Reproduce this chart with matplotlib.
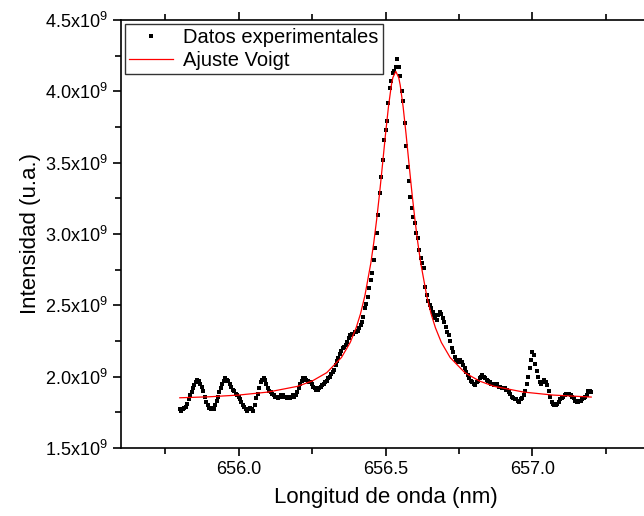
import numpy as np
import matplotlib
matplotlib.use("Agg")
from matplotlib import pyplot as plt
from matplotlib.ticker import MultipleLocator

plt.rcParams["font.family"] = ["Liberation Sans", "DejaVu Sans"]
plt.rcParams["mathtext.fontset"] = "custom"
plt.rcParams["mathtext.rm"] = "Liberation Sans"

# longitud de onda (nm), paso 0.005 nm
wl = np.round(np.arange(655.80, 657.2001, 0.005), 3)

# intensidad medida (x10^9 u.a.)
intens = [
    1.77, 1.76, 1.77, 1.78, 1.79, 1.81, 1.84, 1.87, 1.89, 1.92,
    1.94, 1.96, 1.98, 1.97, 1.95, 1.93, 1.90, 1.86, 1.82, 1.80,
    1.78, 1.77, 1.78, 1.77, 1.80, 1.83, 1.86, 1.89, 1.92, 1.95,
    1.97, 1.99, 1.98, 1.97, 1.95, 1.93, 1.91, 1.90, 1.88, 1.87,
    1.86, 1.84, 1.82, 1.80, 1.79, 1.77, 1.76, 1.77, 1.78, 1.77,
    1.76, 1.80, 1.85, 1.88, 1.92, 1.96, 1.98, 1.99, 1.98, 1.95,
    1.92, 1.90, 1.89, 1.88, 1.87, 1.86, 1.86, 1.85, 1.86, 1.87,
    1.87, 1.86, 1.86, 1.85, 1.86, 1.85, 1.86, 1.87, 1.86, 1.87,
    1.89, 1.92, 1.95, 1.97, 1.99, 1.99, 1.98, 1.97, 1.96, 1.96,
    1.95, 1.93, 1.92, 1.91, 1.91, 1.92, 1.93, 1.94, 1.95, 1.96,
    1.97, 1.99, 2.00, 2.02, 2.03, 2.05, 2.08, 2.11, 2.13, 2.16,
    2.18, 2.20, 2.21, 2.22, 2.24, 2.27, 2.29, 2.30, 2.30, 2.31,
    2.31, 2.32, 2.34, 2.36, 2.38, 2.42, 2.48, 2.51, 2.56, 2.62,
    2.68, 2.73, 2.82, 2.90, 3.01, 3.13, 3.29, 3.40, 3.52, 3.66,
    3.73, 3.79, 3.92, 4.02, 4.07, 4.13, 4.14, 4.17, 4.23, 4.17,
    4.11, 4.00, 3.93, 3.78, 3.62, 3.47, 3.37, 3.26, 3.18, 3.12,
    3.08, 3.01, 2.97, 2.89, 2.83, 2.80, 2.76, 2.63, 2.57, 2.53,
    2.50, 2.48, 2.45, 2.43, 2.41, 2.40, 2.43, 2.45, 2.44, 2.41,
    2.38, 2.35, 2.31, 2.29, 2.25, 2.20, 2.17, 2.14, 2.12, 2.10,
    2.10, 2.12, 2.10, 2.08, 2.06, 2.03, 2.01, 1.99, 1.97, 1.96,
    1.95, 1.94, 1.96, 1.97, 1.99, 2.00, 2.01, 2.00, 1.99, 1.98,
    1.97, 1.96, 1.95, 1.95, 1.94, 1.94, 1.95, 1.93, 1.93, 1.92,
    1.92, 1.92, 1.91, 1.91, 1.89, 1.88, 1.86, 1.85, 1.84, 1.84,
    1.83, 1.82, 1.84, 1.85, 1.87, 1.90, 1.95, 2.00, 2.06, 2.12,
    2.17, 2.15, 2.09, 2.04, 2.00, 1.96, 1.95, 1.96, 1.98, 1.96,
    1.94, 1.90, 1.86, 1.82, 1.81, 1.80, 1.80, 1.81, 1.82, 1.84,
    1.85, 1.86, 1.87, 1.88, 1.88, 1.88, 1.87, 1.86, 1.85, 1.83,
    1.82, 1.82, 1.83, 1.83, 1.84, 1.85, 1.86, 1.87, 1.90, 1.90,
    1.89,
]
intens = np.array(intens) * 1e9

# curva del ajuste Voigt
fit_wl = [655.80, 655.90, 656.00, 656.10, 656.20, 656.25, 656.30, 656.35,
          656.38, 656.40, 656.415, 656.43, 656.45, 656.46, 656.47, 656.48,
          656.49, 656.50, 656.51, 656.52, 656.525, 656.535, 656.545, 656.55,
          656.56, 656.57, 656.58, 656.59, 656.60, 656.61, 656.62, 656.64,
          656.655, 656.67, 656.69, 656.72, 656.77, 656.82, 656.87, 656.97,
          657.07, 657.20]
fit_int = [1.852, 1.859, 1.871, 1.892, 1.932, 1.969, 2.028, 2.134,
           2.240, 2.342, 2.441, 2.569, 2.795, 2.938, 3.103, 3.288,
           3.491, 3.699, 3.891, 4.044, 4.096, 4.140, 4.096, 4.044,
           3.891, 3.699, 3.491, 3.288, 3.103, 2.938, 2.795, 2.569,
           2.441, 2.342, 2.240, 2.134, 2.028, 1.969, 1.932, 1.892,
           1.871, 1.857]
fit_int = np.array(fit_int) * 1e9

y_ticks = [1.5, 2.0, 2.5, 3.0, 3.5, 4.0, 4.5]
y_labels = ["%.1fx10$^\\mathregular{9}$" % v for v in y_ticks]
x_ticks = [656.0, 656.5, 657.0]

fig = plt.figure(figsize=(6.44, 5.16), dpi=100)
ax = fig.add_axes([121 / 644, 1 - 448 / 516, 529 / 644, 428 / 516])

ax.plot(wl, intens, "s", color="black", markersize=2.2, markeredgewidth=0,
        label="Datos experimentales")
ax.plot(fit_wl, fit_int, "-", color="red", linewidth=0.9, label="Ajuste Voigt")

ax.set_xlim(655.6, 657.4)
ax.set_ylim(1.5e9, 4.5e9)
ax.set_xticks(x_ticks)
ax.set_xticklabels(["%.1f" % v for v in x_ticks])
ax.xaxis.set_minor_locator(MultipleLocator(0.25))
ax.set_yticks([v * 1e9 for v in y_ticks])
ax.set_yticklabels(y_labels)
ax.yaxis.set_minor_locator(MultipleLocator(0.25e9))

ax.tick_params(which="both", direction="out", top=True, right=False,
               labelsize=13, width=1.2, colors="black")
ax.tick_params(which="major", length=6)
ax.tick_params(which="minor", length=4)
for s in ax.spines.values():
    s.set_linewidth(1.2)

ax.set_xlabel("Longitud de onda (nm)", fontsize=16, labelpad=6)
ax.set_ylabel("Intensidad (u.a.)", fontsize=16, labelpad=3)

leg = ax.legend(loc="upper left", fontsize=14.5, frameon=True, fancybox=False,
                edgecolor="black", borderaxespad=0.2, borderpad=0.2,
                handlelength=2.2, handletextpad=0.5, labelspacing=0.2,
                markerscale=1.0)
leg.get_frame().set_linewidth(1.0)

plt.savefig("out.png", dpi=100)
